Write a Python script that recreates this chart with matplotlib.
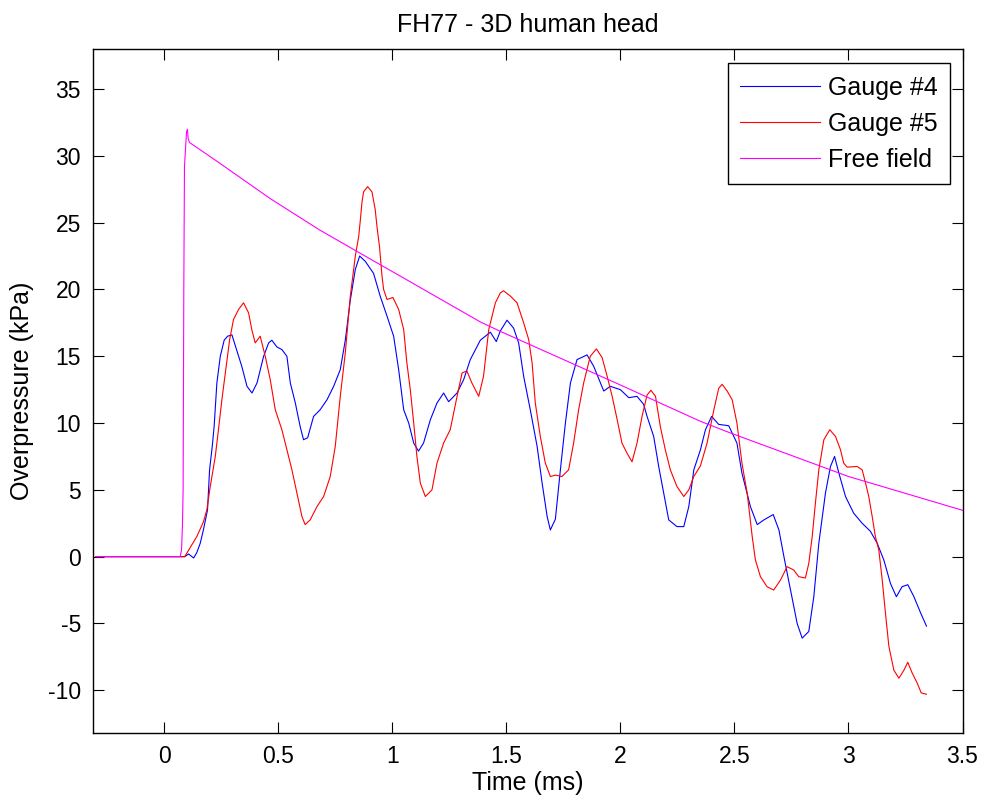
import matplotlib
matplotlib.use("Agg")
import matplotlib.pyplot as plt

plt.rcParams['font.family'] = ['Liberation Sans', 'DejaVu Sans']
plt.rcParams['axes.unicode_minus'] = False

# ---- data ----
t_g4 = [-0.3, 0.09, 0.107, 0.129, 0.143, 0.158, 0.172, 0.19, 0.199, 0.211, 0.219, 0.231, 0.246,
        0.263, 0.278, 0.297, 0.319, 0.341, 0.363, 0.385, 0.407, 0.436, 0.458, 0.472, 0.494,
        0.516, 0.538, 0.553, 0.575, 0.596, 0.611, 0.629, 0.655, 0.684, 0.714, 0.743, 0.772,
        0.794, 0.816, 0.838, 0.857, 0.882, 0.918, 0.947, 0.977, 1.006, 1.028, 1.05, 1.072,
        1.094, 1.115, 1.137, 1.167, 1.196, 1.225, 1.247, 1.284, 1.313, 1.342, 1.386, 1.43,
        1.456, 1.474, 1.503, 1.532, 1.554, 1.576, 1.605, 1.635, 1.657, 1.679, 1.693, 1.715,
        1.737, 1.759, 1.781, 1.81, 1.854, 1.883, 1.927, 1.956, 2.0, 2.037, 2.073, 2.102,
        2.117, 2.146, 2.168, 2.19, 2.212, 2.248, 2.278, 2.3, 2.322, 2.351, 2.373, 2.40,
        2.431, 2.475, 2.511, 2.533, 2.57, 2.6, 2.629, 2.67, 2.695, 2.717, 2.746, 2.775,
        2.797, 2.826, 2.848, 2.87, 2.899, 2.921, 2.939, 2.958, 2.987, 3.023, 3.06, 3.096,
        3.126, 3.155, 3.184, 3.21, 3.235, 3.26, 3.287, 3.316, 3.342]
p_g4 = [0.0, 0.0, 0.2, -0.1, 0.3, 1.0, 2.0, 3.5, 6.5, 8.3, 9.75, 13.0, 15.0,
        16.2, 16.5, 16.6, 15.4, 14.2, 12.75, 12.25, 13.0, 15.0, 16.0, 16.2, 15.7,
        15.5, 15.0, 13.0, 11.5, 9.75, 8.75, 8.9, 10.5, 11.0, 11.75, 12.75, 14.0,
        16.2, 19.2, 21.5, 22.5, 22.1, 21.2, 19.5, 18.0, 16.5, 14.0, 11.0, 10.0,
        8.5, 7.9, 8.5, 10.25, 11.5, 12.25, 11.6, 12.25, 13.25, 14.75, 16.2, 16.8,
        16.1, 16.9, 17.7, 17.1, 16.0, 13.5, 11.0, 8.25, 5.5, 3.0, 2.0, 2.8,
        6.5, 10.0, 13.0, 14.75, 15.1, 14.25, 12.4, 12.75, 12.5, 11.9, 12.0, 11.4,
        10.5, 9.0, 6.75, 4.75, 2.75, 2.25, 2.25, 3.75, 6.5, 8.0, 9.5, 10.5,
        9.9, 9.8, 8.5, 6.25, 3.75, 2.4, 2.75, 3.15, 2.0, 0.0, -2.5, -5.0,
        -6.1, -5.6, -3.0, 1.0, 4.75, 6.75, 7.5, 6.25, 4.5, 3.25, 2.5, 1.9,
        1.0, -0.25, -2.0, -3.0, -2.25, -2.1, -3.0, -4.2, -5.2]

t_g5 = [-0.3, 0.09, 0.143, 0.172, 0.187, 0.202, 0.224, 0.238, 0.253, 0.268, 0.287, 0.304,
        0.326, 0.348, 0.37, 0.384, 0.399, 0.421, 0.443, 0.465, 0.487, 0.516, 0.538, 0.56,
        0.582, 0.604, 0.618, 0.64, 0.67, 0.699, 0.728, 0.75, 0.772, 0.794, 0.816, 0.838,
        0.853, 0.86, 0.867, 0.874, 0.892, 0.911, 0.925, 0.933, 0.944, 0.955, 0.962, 0.977,
        1.003, 1.028, 1.05, 1.064, 1.079, 1.094, 1.108, 1.123, 1.145, 1.174, 1.196, 1.225,
        1.254, 1.284, 1.306, 1.327, 1.349, 1.379, 1.40, 1.423, 1.452, 1.474, 1.488, 1.518,
        1.547, 1.576, 1.598, 1.613, 1.627, 1.649, 1.671, 1.693, 1.715, 1.744, 1.773, 1.795,
        1.817, 1.839, 1.868, 1.895, 1.92, 1.942, 1.964, 1.986, 2.007, 2.029, 2.051, 2.073,
        2.095, 2.117, 2.134, 2.154, 2.175, 2.197, 2.219, 2.248, 2.278, 2.3, 2.322, 2.351,
        2.38, 2.41, 2.431, 2.446, 2.468, 2.49, 2.511, 2.533, 2.556, 2.578, 2.592, 2.614,
        2.643, 2.672, 2.702, 2.731, 2.76, 2.782, 2.811, 2.826, 2.841, 2.855, 2.87, 2.892,
        2.918, 2.943, 2.965, 2.979, 2.994, 3.038, 3.06, 3.075, 3.089, 3.104, 3.118, 3.133,
        3.148, 3.162, 3.177, 3.199, 3.221, 3.243, 3.26, 3.279, 3.301, 3.319, 3.342]
p_g5 = [0.0, 0.0, 1.5, 2.6, 3.5, 5.25, 7.5, 9.5, 11.75, 13.75, 16.25, 17.75,
        18.5, 19.0, 18.25, 17.0, 16.0, 16.5, 15.0, 13.25, 11.0, 9.5, 8.0, 6.5,
        4.75, 3.0, 2.4, 2.75, 3.75, 4.5, 6.0, 8.25, 12.0, 15.25, 19.5, 22.5,
        24.0, 25.2, 26.5, 27.3, 27.7, 27.3, 26.0, 24.7, 23.2, 21.0, 20.0, 19.25,
        19.4, 18.5, 17.0, 14.5, 12.5, 10.0, 7.5, 5.5, 4.5, 5.0, 7.0, 8.5,
        9.5, 12.0, 13.75, 13.9, 13.0, 12.0, 13.5, 17.0, 19.0, 19.75, 19.9, 19.5,
        19.0, 17.5, 16.25, 14.5, 11.5, 9.0, 7.0, 6.0, 6.1, 6.0, 6.5, 8.5,
        11.0, 13.0, 15.0, 15.55, 14.9, 13.5, 12.0, 10.25, 8.5, 7.75, 7.1, 8.5,
        10.5, 12.1, 12.45, 12.0, 9.75, 8.0, 6.5, 5.25, 4.5, 5.0, 6.0, 6.8,
        8.5, 11.0, 12.6, 12.9, 12.4, 11.75, 10.0, 7.0, 4.75, 1.5, -0.25, -1.5,
        -2.25, -2.5, -1.75, -0.75, -1.0, -1.5, -1.6, -0.5, 1.5, 4.0, 6.5, 8.75,
        9.5, 9.0, 8.0, 7.0, 6.7, 6.75, 6.5, 5.5, 4.5, 3.0, 1.5, 0.5,
        -1.75, -4.2, -6.7, -8.5, -9.1, -8.5, -7.9, -8.7, -9.45, -10.2, -10.3]

t_ff = [-0.3, 0.07, 0.076, 0.08, 0.083, 0.086, 0.089, 0.098, 0.102, 0.105, 0.111,
        0.231, 0.465, 0.677, 0.845, 1.035, 1.386, 1.474, 2.0, 2.351, 2.482, 3.0, 3.5]
p_ff = [0.0, 0.0, 0.5, 2.3, 5.0, 20.0, 29.2, 31.8, 32.0, 31.3, 31.0,
        29.6, 26.8, 24.5, 22.85, 21.0, 17.57, 16.86, 12.85, 10.13, 9.26, 6.0, 3.47]

series_labels = ['Gauge #4', 'Gauge #5', 'Free field']
x_ticks = [0, 0.5, 1, 1.5, 2, 2.5, 3, 3.5]
x_ticklabels = ['0', '0.5', '1', '1.5', '2', '2.5', '3', '3.5']
y_ticks = [-10, -5, 0, 5, 10, 15, 20, 25, 30, 35]

# ---- figure ----
fig = plt.figure(figsize=(9.87, 8.07), dpi=100)
ax = fig.add_axes([0.0947, 0.0917, 0.8805, 0.8476])

ax.plot(t_g4, p_g4, color=(0, 0, 1), lw=0.8, label=series_labels[0])
ax.plot(t_g5, p_g5, color=(1, 0, 0), lw=0.8, label=series_labels[1])
ax.plot(t_ff, p_ff, color=(1, 0, 1), lw=0.8, label=series_labels[2])

ax.set_xlim(-0.31, 3.5)
ax.set_ylim(-13.2, 38.0)
ax.set_xticks(x_ticks)
ax.set_xticklabels(x_ticklabels)
ax.set_yticks(y_ticks)
ax.tick_params(direction='in', length=8, width=0.8, top=True, right=True,
               labelsize=16.5, pad=9, colors='k')
for s in ax.spines.values():
    s.set_linewidth(1.0)
    s.set_color('k')

ax.set_title('FH77 - 3D human head', fontsize=18, pad=12)
ax.set_xlabel('Time (ms)', fontsize=18, labelpad=2)
ax.set_ylabel('Overpressure (kPa)', fontsize=18, labelpad=10)

leg = ax.legend(loc='upper right', bbox_to_anchor=(0.9856, 0.979), borderaxespad=0,
                fontsize=18, handlelength=3.2, handletextpad=0.3, labelspacing=0.48,
                borderpad=0.5, fancybox=False, framealpha=1)
leg.get_frame().set_edgecolor('k')
leg.get_frame().set_linewidth(1.0)

fig.savefig('out.png', dpi=100)
